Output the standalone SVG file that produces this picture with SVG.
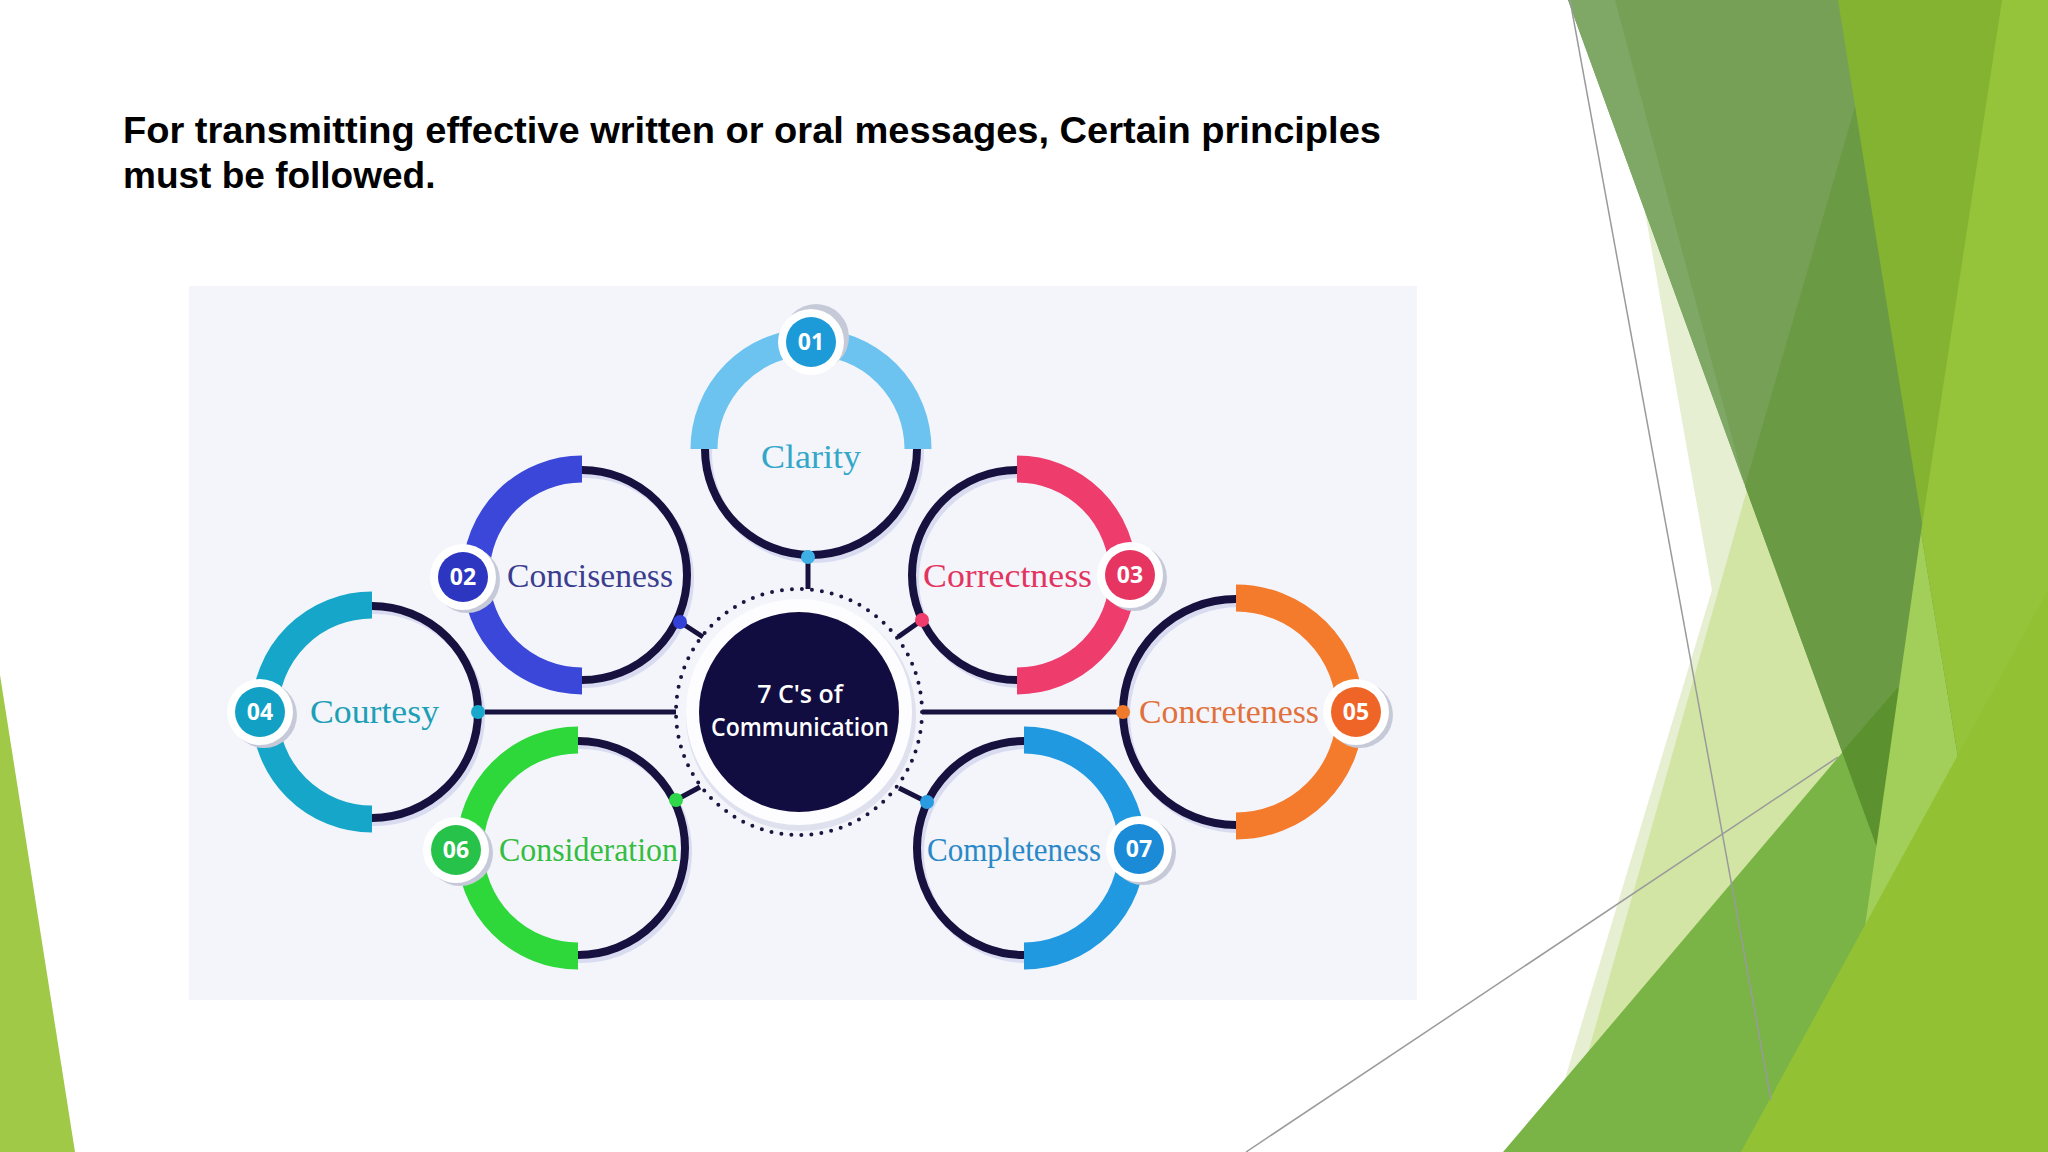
<svg xmlns="http://www.w3.org/2000/svg" width="2048" height="1152" viewBox="0 0 2048 1152">
<defs>
<style>
.title{font-family:"Liberation Sans",Arial,sans-serif;font-weight:bold;font-size:37px;fill:#000}
.lbl{font-family:"Liberation Serif","Times New Roman",serif;font-size:34px}
.num{font-family:"Open Sans","Liberation Sans",sans-serif;font-weight:700;font-size:23px;fill:#fff;text-anchor:middle}
.ring{fill:none;stroke:#16113f;stroke-width:8}
.ringsh{fill:none;stroke:#d9dcf0;stroke-width:8}
.band{fill:none;stroke-width:27}
.conn{stroke:#16113f;stroke-width:5;fill:none}
.bw{fill:#ffffff}
.bsh{fill:#c6cad8}
.ctr{font-family:"Open Sans","Liberation Sans",sans-serif;font-weight:600;font-size:25px;fill:#fff;text-anchor:middle}
.gl{stroke:#9a9a9a;stroke-width:1.5;fill:none}
</style>
</defs>
<rect width="2048" height="1152" fill="#ffffff"/>
<g id="decoration">
<polygon points="0,675 75,1152 0,1152" fill="#9fc947"/>
<polygon points="1645,212 1712,590 1543,1152 2048,1152 2048,212" fill="#e6efd2"/>
<polygon points="1855,107 1560,1152 2048,1152 2048,107" fill="#d3e5a5"/>
<polygon points="1568,0 2048,0 2048,1152 1988,1152" fill="#76a055"/>
<polygon points="1568,0 1615,0 1745,486" fill="#7fa866"/>
<polygon points="1855,107 1745,486 1988,1152 2048,1152 2048,107" fill="#6a9a44"/>
<polygon points="1838,0 2048,0 2048,1152 2023,1152" fill="#84b332"/>
<polygon points="1897,688 1503,1152 2048,1152 2048,688" fill="#7bb446"/>
<polygon points="1897,688 1842,752 1988,1152 2048,1152 2048,688" fill="#5b922f"/>
<polygon points="1921,532 2023,1152 1833,1152" fill="#a2ce5a"/>
<polygon points="2002,0 2048,0 2048,1152 2023,1152 1921,532" fill="#95c33a"/>
<polygon points="2048,590 2048,1152 1741,1152" fill="#92c233"/>
<polyline class="gl" points="1570,0 1771,1100"/>
<polyline class="gl" points="1246,1152 1838,757"/>
</g>
<g id="title">
<text class="title" x="123" y="143" textLength="1258" lengthAdjust="spacingAndGlyphs">For transmitting effective written or oral messages, Certain principles</text>
<text class="title" x="123" y="188">must be followed.</text>
</g>
<rect id="panel" x="189" y="286" width="1228" height="714" fill="#f3f5fb"/>
<g id="connectors">
<line class="conn" x1="808" y1="557" x2="808" y2="589"/>
<line class="conn" x1="680" y1="622" x2="703" y2="637"/>
<line class="conn" x1="922" y1="620" x2="898" y2="637"/>
<line class="conn" x1="478" y1="712" x2="676" y2="712"/>
<line class="conn" x1="922" y1="712" x2="1123" y2="712"/>
<line class="conn" x1="676" y1="800" x2="700" y2="787"/>
<line class="conn" x1="927" y1="802" x2="899" y2="788"/>
</g>
<g id="center">
<circle cx="801" cy="716" r="115" fill="#dfe2ee"/>
<circle cx="799" cy="712" r="113" fill="#fdfdff"/>
<circle cx="799" cy="712" r="123" fill="none" stroke="#1a1640" stroke-width="4" stroke-linecap="round" stroke-dasharray="0 10.04"/>
<circle cx="799" cy="712" r="100" fill="#120d40"/>
<text class="ctr" x="800" y="703">7 C's of</text>
<text class="ctr" x="800" y="736" textLength="178" lengthAdjust="spacingAndGlyphs">Communication</text>
</g>
<g id="clarity">
<circle class="ringsh" cx="814" cy="453" r="106"/>
<circle class="ring" cx="811" cy="449" r="106"/>
<path class="band" d="M704,449 A107,107 0 0 1 918,449" stroke="#6cc3ef"/>
<circle cx="808" cy="557" r="7" fill="#3eb0e6"/>
<circle class="bsh" cx="816" cy="337" r="33"/>
<circle class="bw" cx="811" cy="342" r="33"/>
<circle cx="811" cy="342" r="25" fill="#1d9ad8"/>
<text class="num" x="811" y="350">01</text>
<text class="lbl" x="811" y="468" text-anchor="middle" textLength="100" lengthAdjust="spacingAndGlyphs" fill="#33a7c9">Clarity</text>
</g>
<g id="conciseness">
<circle class="ringsh" cx="585" cy="579" r="105"/>
<circle class="ring" cx="582" cy="575" r="105"/>
<path class="band" d="M582,469 A106,106 0 0 0 582,681" stroke="#3b47d8"/>
<circle cx="680" cy="622" r="7" fill="#3341d6"/>
<circle class="bsh" cx="467" cy="580" r="33"/>
<circle class="bw" cx="463" cy="577" r="33"/>
<circle cx="463" cy="577" r="25" fill="#2c36c0"/>
<text class="num" x="463" y="585">02</text>
<text class="lbl" x="507" y="587" textLength="166" lengthAdjust="spacingAndGlyphs" fill="#3b3d8f">Conciseness</text>
</g>
<g id="correctness">
<circle class="ringsh" cx="1020" cy="579" r="105"/>
<circle class="ring" cx="1017" cy="575" r="105"/>
<path class="band" d="M1017,469 A106,106 0 0 1 1017,681" stroke="#ee3d6c"/>
<circle cx="922" cy="620" r="7" fill="#ee3d6c"/>
<circle class="bsh" cx="1134" cy="578" r="33"/>
<circle class="bw" cx="1130" cy="575" r="33"/>
<circle cx="1130" cy="575" r="25" fill="#e63560"/>
<text class="num" x="1130" y="583">03</text>
<text class="lbl" x="923" y="587" textLength="169" lengthAdjust="spacingAndGlyphs" fill="#e3345f">Correctness</text>
</g>
<g id="courtesy">
<circle class="ringsh" cx="375" cy="716" r="106"/>
<circle class="ring" cx="372" cy="712" r="106"/>
<path class="band" d="M372,605 A107,107 0 0 0 372,819" stroke="#16a6c9"/>
<circle cx="478" cy="712" r="7" fill="#18a8cc"/>
<circle class="bsh" cx="264" cy="715" r="33"/>
<circle class="bw" cx="260" cy="712" r="33"/>
<circle cx="260" cy="712" r="25" fill="#12a0c4"/>
<text class="num" x="260" y="720">04</text>
<text class="lbl" x="310" y="723" textLength="129" lengthAdjust="spacingAndGlyphs" fill="#1d9fb6">Courtesy</text>
</g>
<g id="concreteness">
<circle class="ringsh" cx="1239" cy="716" r="113"/>
<circle class="ring" cx="1236" cy="712" r="113"/>
<path class="band" d="M1236,598 A114,114 0 0 1 1236,826" stroke="#f47a2c"/>
<circle cx="1123" cy="712" r="7" fill="#f07a2c"/>
<circle class="bsh" cx="1360" cy="715" r="33"/>
<circle class="bw" cx="1356" cy="712" r="33"/>
<circle cx="1356" cy="712" r="25" fill="#ef6528"/>
<text class="num" x="1356" y="720">05</text>
<text class="lbl" x="1139" y="723" textLength="180" lengthAdjust="spacingAndGlyphs" fill="#e2703a">Concreteness</text>
</g>
<g id="consideration">
<circle class="ringsh" cx="581" cy="852" r="107"/>
<circle class="ring" cx="578" cy="848" r="107"/>
<path class="band" d="M578,740 A108,108 0 0 0 578,956" stroke="#2fd83a"/>
<circle cx="676" cy="800" r="7" fill="#2fd84a"/>
<circle class="bsh" cx="460" cy="853" r="33"/>
<circle class="bw" cx="456" cy="850" r="33"/>
<circle cx="456" cy="850" r="25" fill="#26c24a"/>
<text class="num" x="456" y="858">06</text>
<text class="lbl" x="499" y="861" textLength="179" lengthAdjust="spacingAndGlyphs" fill="#34bd3e">Consideration</text>
</g>
<g id="completeness">
<circle class="ringsh" cx="1027" cy="852" r="107"/>
<circle class="ring" cx="1024" cy="848" r="107"/>
<path class="band" d="M1024,740 A108,108 0 0 1 1024,956" stroke="#2199e0"/>
<circle cx="927" cy="802" r="7" fill="#2a9be0"/>
<circle class="bsh" cx="1143" cy="852" r="33"/>
<circle class="bw" cx="1139" cy="849" r="33"/>
<circle cx="1139" cy="849" r="25" fill="#1b8bd8"/>
<text class="num" x="1139" y="857">07</text>
<text class="lbl" x="927" y="861" textLength="174" lengthAdjust="spacingAndGlyphs" fill="#2b88c6">Completeness</text>
</g>
</svg>
